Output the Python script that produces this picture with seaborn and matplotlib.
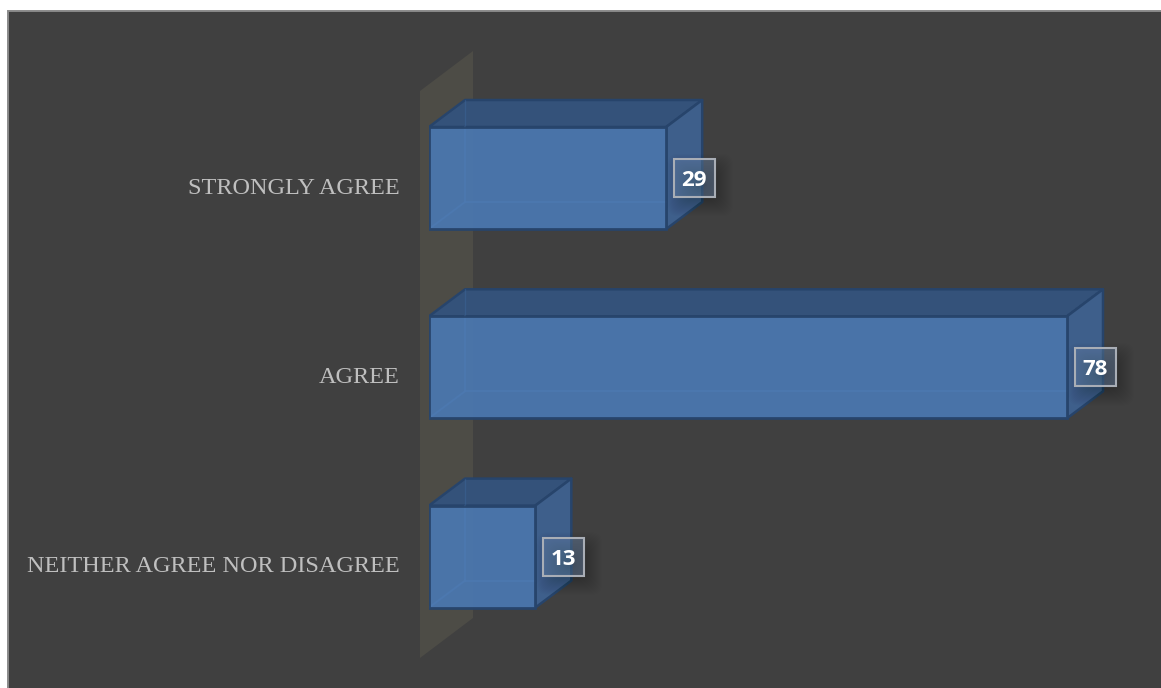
import matplotlib
matplotlib.use("Agg")
import matplotlib.pyplot as plt
from matplotlib.patches import FancyBboxPatch, Polygon, Rectangle
from matplotlib.transforms import ScaledTranslation
import pandas as pd
import seaborn as sns

categories = ["STRONGLY AGREE", "AGREE", "NEITHER AGREE NOR DISAGREE"]
counts = [29, 78, 13]

W, H = 1161, 688
BG = "#404040"
FRONT = "#4a76ad"
TOP = "#34527a"
SIDE = "#3e5f8b"
EDGE = "#27446b"
INNER = "#3f6ca6"
WALL = "#4d4c46"
TEXT = "#bfbfbf"

sns.set_theme(style="white")
plt.rcParams["font.family"] = ["Liberation Serif", "DejaVu Serif"]

fig = plt.figure(figsize=(W / 100, H / 100), dpi=100, facecolor="white")

# Dark panel with a thin grey rim, running off the right and bottom edges
fig.patches.append(Rectangle((8 / W, -0.2), 1.2, 1.2 - 11 / H, transform=fig.transFigure,
                             facecolor=BG, edgecolor="#8a8a8a", linewidth=1.4, zorder=-5))

# The axes start at the zero line, so the tick labels sit left of the bars
ax = fig.add_axes([429 / W, 0, 1 - 429 / W, 1])
ax.patch.set_visible(False)

PX_PER_UNIT = 638 / 78
PX_PER_ROW = 189.3
xmax = (W - 429) / PX_PER_UNIT
row0 = 178
depth_x = 36 / PX_PER_UNIT
depth_y = 27 / PX_PER_ROW
half = 51 / PX_PER_ROW


def px_x(p):
    return (p - 429) / PX_PER_UNIT


def px_y(p):
    return (p - row0) / PX_PER_ROW


df = pd.DataFrame({"response": categories, "count": counts})
sns.barplot(data=df, y="response", x="count", orient="h", ax=ax, color=FRONT, saturation=1,
            width=2 * half, edgecolor=EDGE, linewidth=2.0, alpha=0.96, zorder=5)
ax.set_xlim(0, xmax)
ax.set_ylim(px_y(H), px_y(0))
ax.set_xlabel("")
ax.set_ylabel("")
ax.xaxis.set_visible(False)
ax.tick_params(axis="y", length=0, pad=29 * 0.72, labelsize=17.5, labelcolor=TEXT)
for s in ax.spines.values():
    s.set_visible(False)

# Category labels sit a little below the centre of each bar
label_shift = ScaledTranslation(0, -7.5 / 100, fig.dpi_scale_trans)
for label in ax.get_yticklabels():
    label.set_transform(label.get_transform() + label_shift)

# Slanted back wall behind the zero line
ax.add_patch(Polygon([(px_x(420), px_y(91)), (px_x(473), px_y(51)),
                      (px_x(473), px_y(618)), (px_x(420), px_y(658))],
                     closed=True, facecolor=WALL, edgecolor="none", clip_on=False, zorder=1))

for i, v in enumerate(counts):
    yt, yb = i - half, i + half
    dx, dy = depth_x, depth_y

    ax.add_patch(Polygon([(0, yt), (dx, yt - dy), (v + dx, yt - dy), (v, yt)], closed=True,
                         facecolor=TOP, edgecolor=EDGE, linewidth=1.8, joinstyle="round", zorder=3))
    ax.add_patch(Polygon([(v, yt), (v + dx, yt - dy), (v + dx, yb - dy), (v, yb)], closed=True,
                         facecolor=SIDE, edgecolor=EDGE, linewidth=1.8, joinstyle="round", zorder=3))

    # Rear edges of the box, seen faintly through the translucent faces
    ax.plot([dx, dx], [yt - dy, yt], color=INNER, lw=1.0, alpha=0.35, zorder=4)
    ax.plot([dx, dx, v], [yt, yb - dy, yb - dy], color="#7fb0f0", lw=1.4, alpha=0.9, zorder=4)
    ax.plot([0, dx], [yb, yb - dy], color="#7fb0f0", lw=1.4, alpha=0.9, zorder=4)

    # Value tag: soft drop shadow built from stacked translucent boxes, then the box and number
    cx = v + 28 / PX_PER_UNIT
    cy = i
    bw, bh = 20.5 / PX_PER_UNIT, 19 / PX_PER_ROW
    tag_left = (429 + v * PX_PER_UNIT + 28) - 20.5
    tag_top = row0 + i * PX_PER_ROW - 19
    for k in range(20, -12, -1):
        grow = k * 1.0
        shadow = FancyBboxPatch((tag_left - grow + 6 + 8, H - (tag_top + 38 + 7) - grow + 8),
                                41 + 2 * grow - 16, 38 + 2 * grow - 16,
                                boxstyle="round,pad=0,rounding_size=10",
                                transform=None, facecolor="black", edgecolor="none",
                                alpha=0.011, zorder=6)
        ax.add_patch(shadow)
    ax.add_patch(Rectangle((cx - bw, cy - bh), 2 * bw, 2 * bh, facecolor="#6f8db5", alpha=0.4,
                           edgecolor="none", zorder=7))
    ax.add_patch(Rectangle((cx - bw, cy - bh), 2 * bw, 2 * bh, facecolor="none",
                           edgecolor="#a9aeb6", linewidth=1.5, zorder=8))
    ax.text(cx, cy, str(v), ha="center", va="center_baseline", color="white", fontsize=16,
            fontweight="bold", family=["Open Sans", "DejaVu Sans"], zorder=9)

fig.savefig("out.png", dpi=100, facecolor="white")
